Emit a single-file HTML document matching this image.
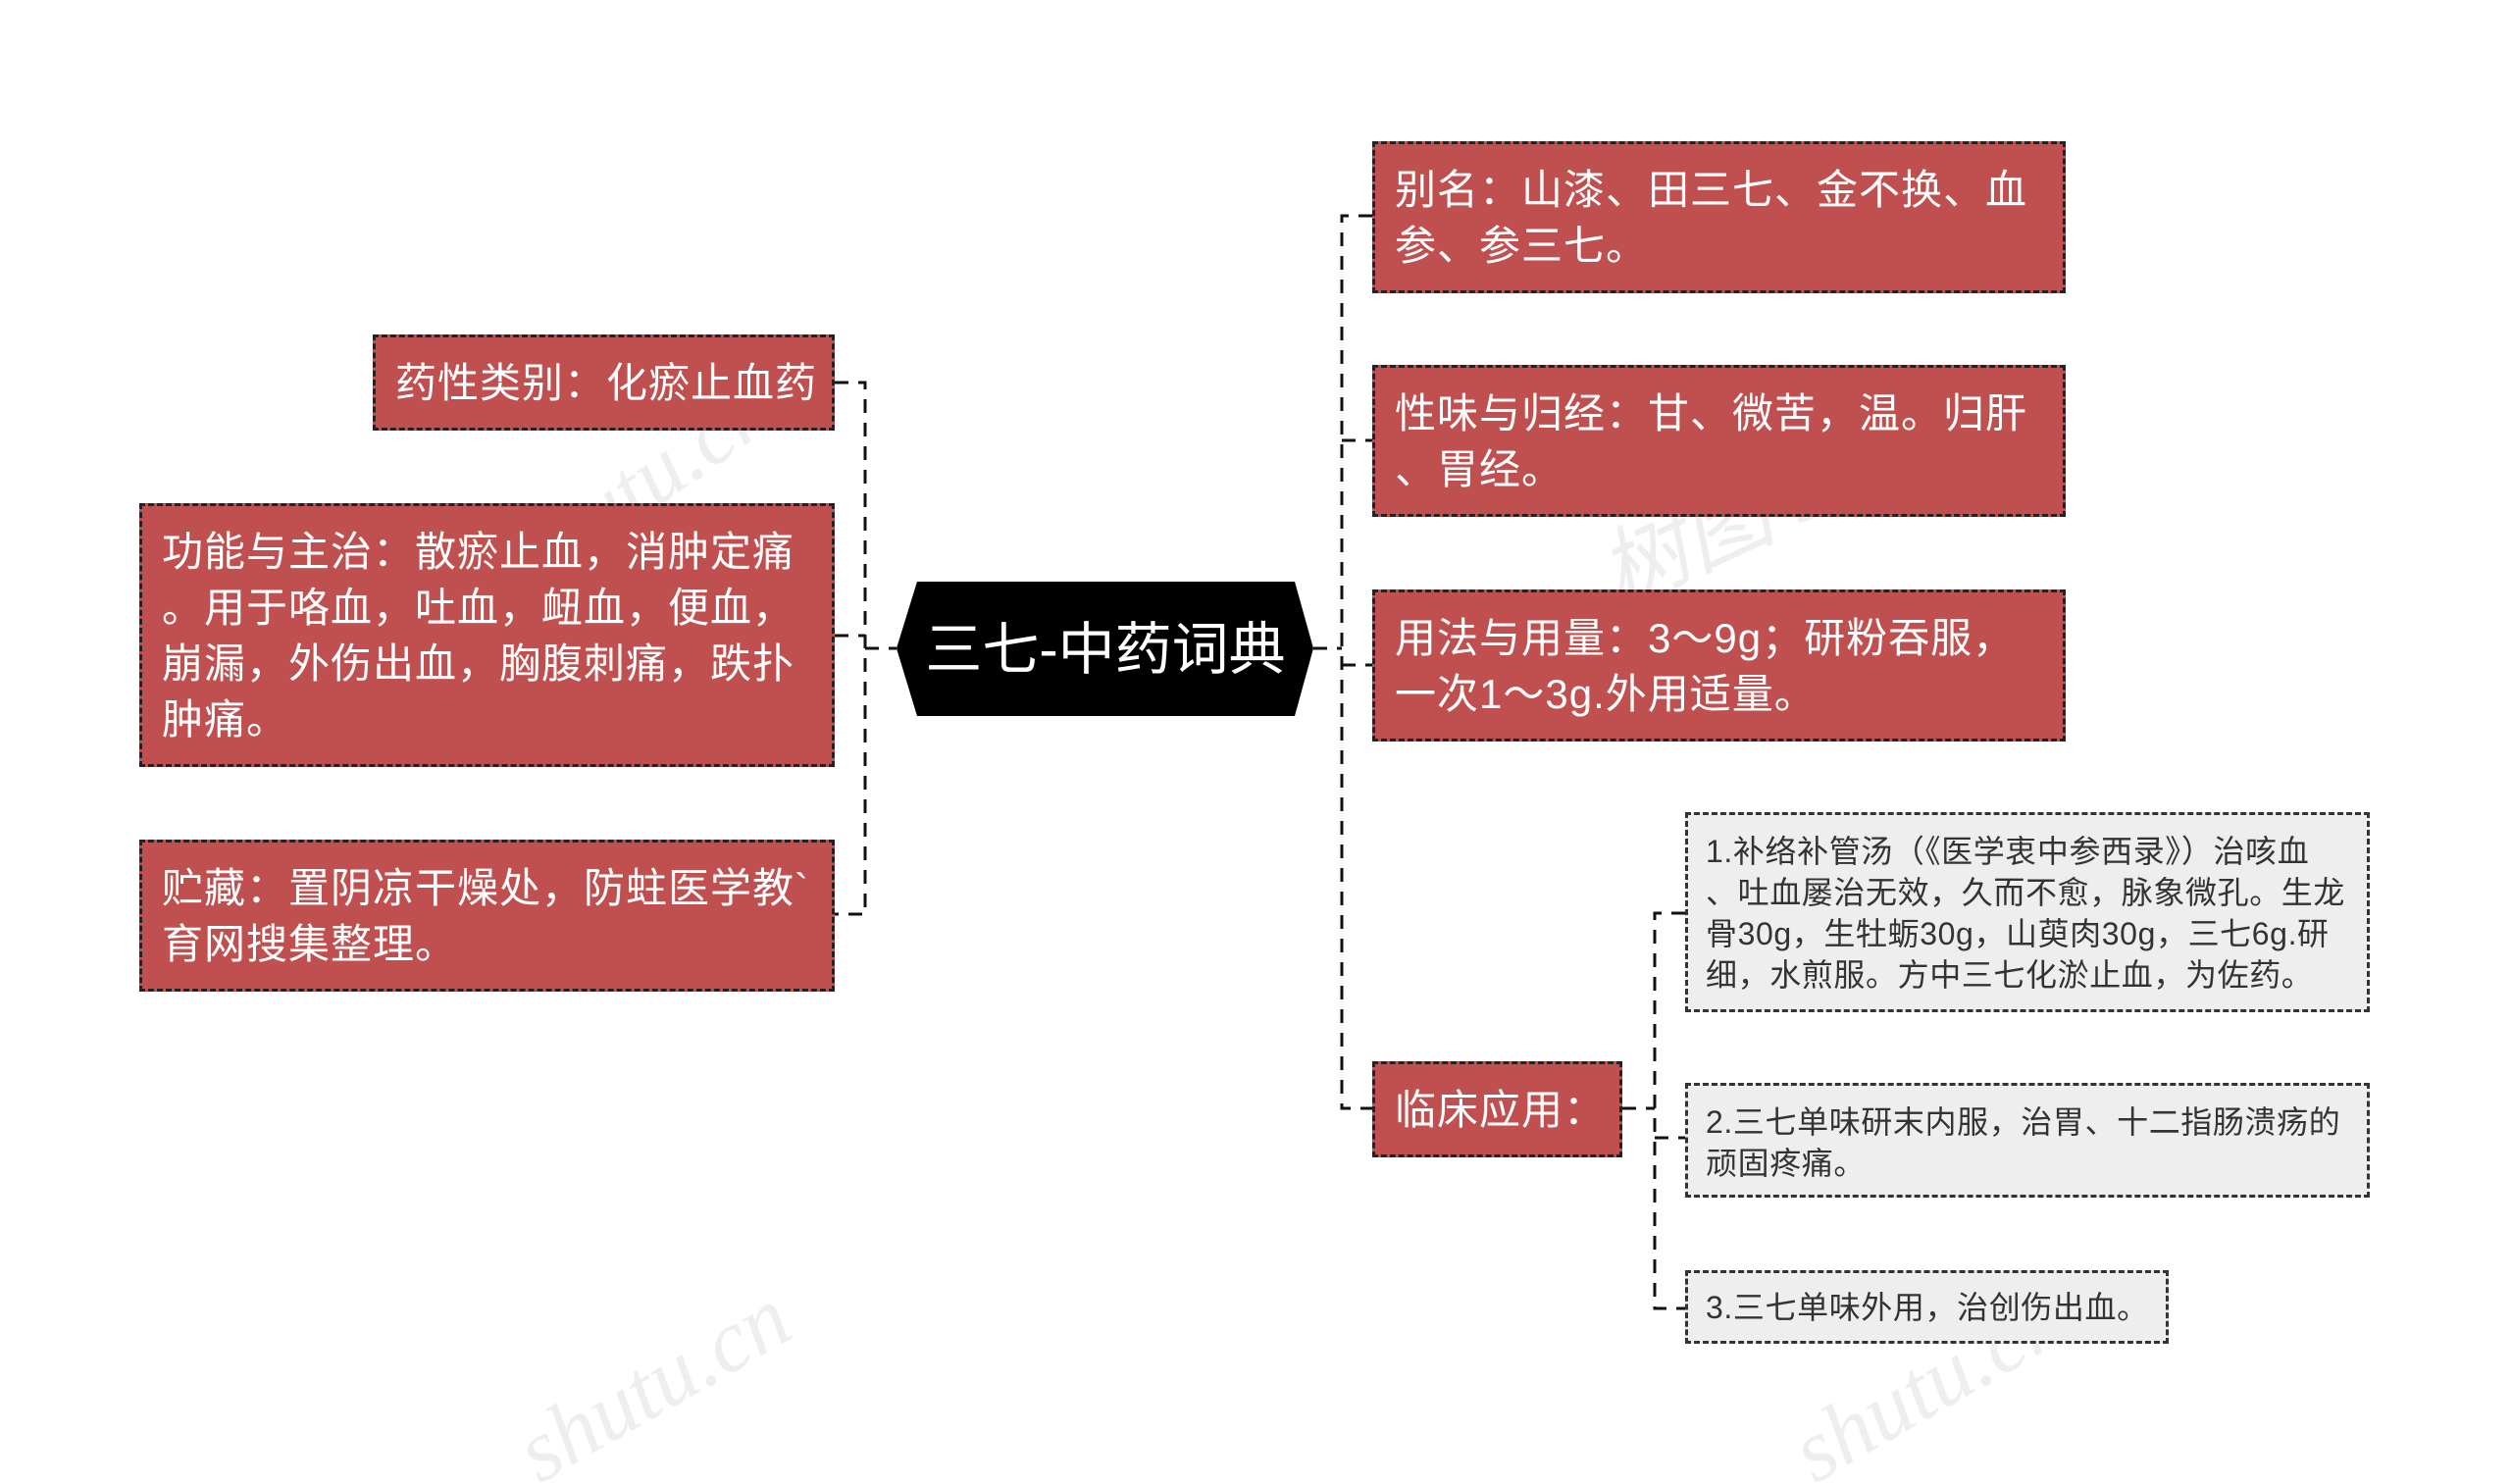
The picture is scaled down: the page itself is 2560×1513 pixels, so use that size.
<!DOCTYPE html>
<html><head><meta charset="utf-8"><style>
body{margin:0;width:2560px;height:1513px;background:#fff;position:relative;overflow:hidden;font-family:"Liberation Sans","Noto Sans CJK SC",sans-serif;}
.b{position:absolute;box-sizing:border-box;border:3px dashed #222;background:#c0504f;color:#fff;font-size:42px;letter-spacing:1px;line-height:57px;padding:18px 20px;white-space:nowrap;}
.g{position:absolute;box-sizing:border-box;border:3px dashed #333;background:#eeeeee;color:#333;font-size:32px;letter-spacing:0.6px;line-height:42px;padding:16px 18px;white-space:nowrap;}
svg{position:absolute;left:0;top:0;}
</style></head><body>
<svg width="2560" height="1513">
<g stroke="#111" stroke-width="3" fill="none" stroke-dasharray="14,10">
<path d="M851 390 H882 V932 H851"/>
<path d="M851 648 H882"/>
<path d="M882 661 H914"/>
<path d="M1339 661 H1368"/>
<path d="M1399 220 H1368 V1130 H1399"/>
<path d="M1368 449 H1399 M1368 678 H1399"/>
<path d="M1654 1130 H1687"/>
<path d="M1718 931 H1687 V1334 H1718 M1687 1160 H1718"/>
</g>
<polygon points="914,661 935,593 1320,593 1339,661 1320,730 935,730" fill="#000"/>
<text x="1127" y="682" fill="#fff" font-size="58" text-anchor="middle" font-family="Liberation Sans,Noto Sans CJK SC,sans-serif">三七-中药词典</text>
<g fill="#ddd" opacity="0.5" font-size="90" font-family="Liberation Serif,serif" font-style="italic">
<text x="380" y="720" transform="rotate(-35 380 720)">树图 shutu.cn</text>
<text x="1650" y="620" transform="rotate(-25 1650 620)">树图 shutu.cn</text>
<text x="550" y="1513" transform="rotate(-30 550 1513)">shutu.cn</text>
<text x="1850" y="1513" transform="rotate(-30 1850 1513)">shutu.cn</text>
</g>
</svg>
<div class="b" style="left:380px;top:341px;width:471px;height:98px;">药性类别：化瘀止血药</div>
<div class="b" style="left:142px;top:513px;width:709px;height:269px;">功能与主治：散瘀止血，消肿定痛<br>。用于咯血，吐血，衄血，便血，<br>崩漏，外伤出血，胸腹刺痛，跌扑<br>肿痛。</div>
<div class="b" style="left:142px;top:856px;width:709px;height:155px;">贮藏：置阴凉干燥处，防蛀医学教`<br>育网搜集整理。</div>
<div class="b" style="left:1399px;top:144px;width:707px;height:155px;">别名：山漆、田三七、金不换、血<br>参、参三七。</div>
<div class="b" style="left:1399px;top:372px;width:707px;height:155px;">性味与归经：甘、微苦，温。归肝<br>、胃经。</div>
<div class="b" style="left:1399px;top:601px;width:707px;height:155px;">用法与用量：3～9g；研粉吞服，<br>一次1～3g.外用适量。</div>
<div class="b" style="left:1399px;top:1082px;width:255px;height:98px;">临床应用：</div>
<div class="g" style="left:1718px;top:828px;width:698px;height:204px;">1.补络补管汤（《医学衷中参西录》）治咳血<br>、吐血屡治无效，久而不愈，脉象微孔。生龙<br>骨30g，生牡蛎30g，山萸肉30g，三七6g.研<br>细，水煎服。方中三七化淤止血，为佐药。</div>
<div class="g" style="left:1718px;top:1104px;width:698px;height:117px;">2.三七单味研末内服，治胃、十二指肠溃疡的<br>顽固疼痛。</div>
<div class="g" style="left:1718px;top:1295px;width:493px;height:75px;padding-top:14px;">3.三七单味外用，治创伤出血。</div>
</body></html>
